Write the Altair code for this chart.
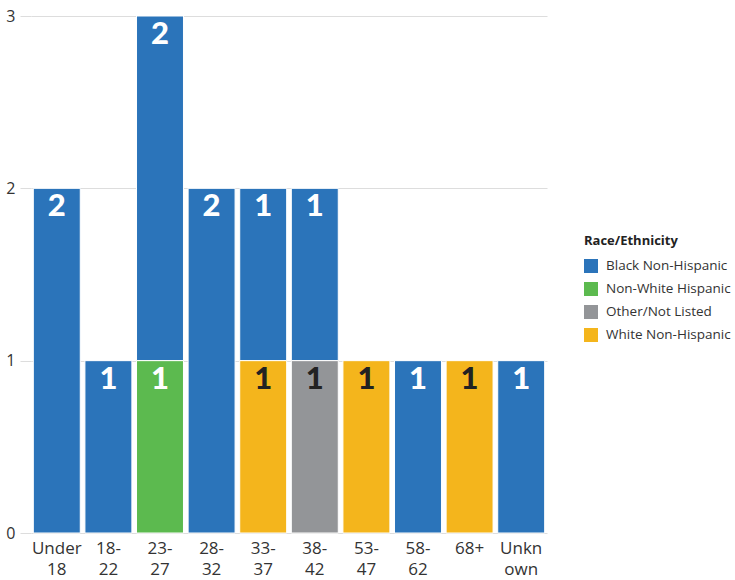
import json
import altair as alt
import pandas as pd

categories = ["Under 18", "18-22", "23-27", "28-32", "33-37", "38-42", "53-47", "58-62", "68+", "Unknown"]
label_lines = [["Under", "18"], ["18-", "22"], ["23-", "27"], ["28-", "32"], ["33-", "37"],
               ["38-", "42"], ["53-", "47"], ["58-", "62"], ["68+"], ["Unkn", "own"]]
races = ["Black Non-Hispanic", "Non-White Hispanic", "Other/Not Listed", "White Non-Hispanic"]
colors = ["#2b74ba", "#5cba4f", "#939598", "#f4b51c"]
black = [2, 1, 2, 2, 1, 1, 0, 1, 0, 1]
nonwhite_hisp = [0, 0, 1, 0, 0, 0, 0, 0, 0, 0]
other = [0, 0, 0, 0, 0, 1, 0, 0, 0, 0]
white = [0, 0, 0, 0, 1, 0, 1, 0, 1, 0]

series = {races[0]: black, races[1]: nonwhite_hisp, races[2]: other, races[3]: white}
stack_pos = {races[0]: 3, races[1]: 2, races[2]: 1, races[3]: 0}

rows = []
for r, vals in series.items():
    for c, v in zip(categories, vals):
        if v > 0:
            rows.append({"age": c, "race": r, "count": v, "ord": stack_pos[r]})
df = pd.DataFrame(rows)

expr = "datum.value"
for c, lines in reversed(list(zip(categories, label_lines))):
    expr = f"datum.value == '{c}' ? {json.dumps(lines)} : ({expr})"

FONT = "Open Sans"

x_enc = alt.X("age:N", sort=categories,
              scale=alt.Scale(paddingInner=0.09, paddingOuter=0.045),
              axis=alt.Axis(title=None, labelAngle=0, ticks=False, domain=False,
                            labelPadding=7, labelFontSize=17, labelLineHeight=21,
                            labelColor="#333333", labelOverlap=False, labelExpr=expr,
                            labelFont=FONT))

base = alt.Chart(df).transform_stack(
    stack="count", groupby=["age"], sort=[alt.SortField("ord", order="ascending")],
    as_=["y0", "y1"])

bars = base.mark_bar(stroke="white", strokeWidth=1).encode(
    x=x_enc,
    y=alt.Y("y1:Q", scale=alt.Scale(domain=[0, 3], nice=False),
            axis=alt.Axis(title=None, values=[0, 1, 2, 3], tickSize=11, tickColor="#dddddd",
                          tickWidth=1, labelPadding=5, labelFontSize=16, labelColor="#333333",
                          grid=True, gridColor="#dddddd", gridWidth=1, domain=False,
                          labelFont=FONT, format="d")),
    y2="y0",
    color=alt.Color("race:N", scale=alt.Scale(domain=races, range=colors),
                    legend=alt.Legend(title="Race/Ethnicity", orient="none", legendX=553, legendY=219,
                                      symbolType="square", symbolSize=196, symbolStrokeWidth=0,
                                      labelFontSize=13.5, labelColor="#333333", labelFont=FONT,
                                      titleFontSize=13, titleColor="#222222", titleFont=FONT,
                                      titleFontWeight="bold", titlePadding=11, rowPadding=9,
                                      labelOffset=8, padding=0)),
)

text = base.mark_text(baseline="middle", align="center", dy=19, fontSize=31,
                      fontWeight=900, font="Lato").encode(
    x=alt.X("age:N", sort=categories),
    y=alt.Y("y1:Q"),
    text=alt.Text("count:Q"),
    color=alt.condition(
        "datum.race == 'Other/Not Listed' || datum.race == 'White Non-Hispanic'",
        alt.value("#222222"), alt.value("white")),
)

chart = alt.layer(bars, text).properties(
    width=516, height=517,
    autosize=alt.AutoSizeParams(type="none"),
    padding={"left": 31, "top": 16, "right": 188, "bottom": 47},
).configure_view(stroke=None)

chart.save("out.html", embed_options={"renderer": "svg", "actions": False})
